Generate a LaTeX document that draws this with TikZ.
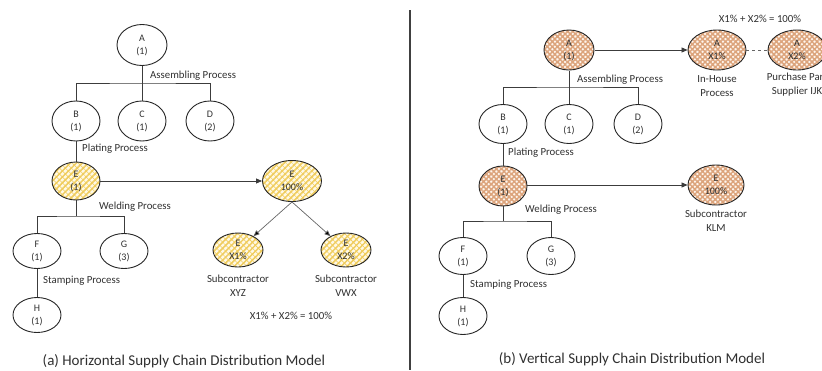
\documentclass[tikz,border=0pt]{standalone}
\usepackage{fontspec}
\setmainfont{Carlito}
\usetikzlibrary{patterns.meta,arrows.meta,shapes.geometric}
\definecolor{ln}{HTML}{3C3C3C}
\definecolor{txt}{HTML}{303030}
\definecolor{yelln}{HTML}{F0CC5C}
\definecolor{yelbg}{HTML}{FFF9E6}
\definecolor{brnln}{HTML}{DCA47C}
\definecolor{brnbg}{HTML}{FFF6EE}
\tikzset{
  ell/.style={ellipse, draw=black!85, line width=0.9pt, minimum width=48pt,
    minimum height=38pt, inner sep=0pt, align=center,
    font=\fontsize{10}{13}\selectfont, text=txt},
  yel/.style={preaction={fill=yelbg},
    preaction={pattern={Lines[angle=45,distance=4.2pt,line width=1.5pt]}, pattern color=yelln},
    pattern={Lines[angle=-45,distance=4.2pt,line width=0.6pt]}, pattern color=yelln},
  brn/.style={preaction={fill=brnbg},
    pattern={Hatch[angle=45,distance=3.6pt,line width=1.5pt]}, pattern color=brnln},
  conn/.style={draw=ln, line width=0.8pt},
  arr/.style={draw=ln, line width=0.8pt, -{Triangle[length=6pt,width=5pt]}},
  arr2/.style={draw=black!60, line width=0.7pt, -{Triangle[length=6pt,width=5pt,fill=black]}},
  dsh/.style={draw=black!60, line width=0.8pt, dashed},
  lbl/.style={inner sep=0pt, align=center, font=\fontsize{10.8}{14}\selectfont, text=txt},
  captxt/.style={inner sep=0pt, font=\fontsize{15}{18}\selectfont, text=txt},
  divider/.style={draw=black!75, line width=1.1pt}
}
\begin{document}
\begin{tikzpicture}[x=1pt,y=-1pt]
\useasboundingbox (0,0) rectangle (822,370);
\clip (0,0) rectangle (822,370);
% ---------- left panel ----------
\node[ell,minimum width=50pt,minimum height=41pt] (A) at (142,45) {A\\(1)};
\node[ell,minimum height=40pt] (B) at (76,121) {B\\(1)};
\node[ell,minimum height=40pt] (C) at (142,121) {C\\(1)};
\node[ell,minimum height=40pt] (D) at (210,121) {D\\(2)};
\node[ell,yel] (E) at (76,181) {E\\(1)};
\node[ell,yel,minimum width=59pt,minimum height=41pt] (E0) at (292,181) {E\\100\%};
\node[ell,yel,minimum width=50pt,minimum height=34pt] (X1) at (238,250) {E\\X1\%};
\node[ell,yel,minimum width=50pt,minimum height=34pt] (X2) at (346,250) {E\\X2\%};
\node[ell,minimum height=35pt] (F) at (37,251) {F\\(1)};
\node[ell,minimum height=35pt] (G) at (124,251) {G\\(3)};
\node[ell,minimum height=35pt] (H) at (37,315) {H\\(1)};
\coordinate (jA) at (142,83);
\coordinate (jE) at (76,216);
\draw[conn] (A.south) -- (jA);
\draw[conn] (B.north) |- (jA) -| (D.north);
\draw[conn] (C.north) -- (jA);
\draw[conn] (B.south) -- (E.north);
\draw[conn] (E.south) -- (jE);
\draw[conn] (F.north) |- (jE) -| (G.north);
\draw[conn] (F.south) -- (H.north);
\draw[arr] (E.east) -- (E0.west);
\draw[arr2] (E0.south) -- (X1);
\draw[arr2] (E0.south) -- (X2);
\node[lbl,anchor=west] (tAss) at (150,76) {Assembling Process};
\node[lbl,anchor=west] (tPl) at (82,149) {Plating Process};
\node[lbl,anchor=west] (tWe) at (99,207) {Welding Process};
\node[lbl,anchor=west] (tSt) at (43,281) {Stamping Process};
\node[lbl] (tX1) at (238,286) {Subcontractor\\XYZ};
\node[lbl] (tX2) at (346,286) {Subcontractor\\VWX};
\node[lbl] (tEq) at (291,316) {X1\% + X2\% = 100\%};
\node[captxt] (capA) at (184,361) {(a) Horizontal Supply Chain Distribution Model};
% ---------- divider ----------
\coordinate (d1) at (410,10);
\coordinate (d2) at (410,370);
\draw[divider] (d1) -- (d2);
% ---------- right panel ----------
\node[ell,brn,minimum width=50pt,minimum height=40pt] (RA) at (569,50) {A\\(1)};
\node[ell,brn,minimum width=58pt,minimum height=40pt] (RA1) at (717,50) {A\\X1\%};
\node[ell,brn,minimum width=58pt,minimum height=40pt] (RA2) at (797,50) {A\\X2\%};
\node[ell,minimum height=39pt] (RB) at (503,124) {B\\(1)};
\node[ell,minimum height=39pt] (RC) at (569,124) {C\\(1)};
\node[ell,minimum height=39pt] (RD) at (638,124) {D\\(2)};
\node[ell,brn,minimum height=40pt] (RE) at (503,186) {E\\(1)};
\node[ell,brn,minimum width=56pt,minimum height=40pt] (RE0) at (716,185) {E\\100\%};
\node[ell,minimum height=37pt] (RF) at (463,256) {F\\(1)};
\node[ell,minimum height=37pt] (RG) at (551,256) {G\\(3)};
\node[ell,minimum height=37pt] (RH) at (463,316) {H\\(1)};
\coordinate (jRA) at (569,87);
\coordinate (jRE) at (503,221);
\draw[conn] (RA.south) -- (jRA);
\draw[conn] (RB.north) |- (jRA) -| (RD.north);
\draw[conn] (RC.north) -- (jRA);
\draw[conn] (RB.south) -- (RE.north);
\draw[conn] (RE.south) -- (jRE);
\draw[conn] (RF.north) |- (jRE) -| (RG.north);
\draw[conn] (RF.south) -- (RH.north);
\draw[arr] (RA.east) -- (RA1.west);
\draw[dsh] (RA1.east) -- (RA2.west);
\draw[arr] (RE.east |- RE0.west) -- (RE0.west);
\node[lbl,anchor=west] (rtAss) at (577,80) {Assembling Process};
\node[lbl,anchor=west] (rtPl) at (508,153) {Plating Process};
\node[lbl,anchor=west] (rtWe) at (525,210) {Welding Process};
\node[lbl,anchor=west] (rtSt) at (470,285) {Stamping Process};
\node[lbl] (rtIn) at (717,86.5) {In-House\\Process};
\node[lbl] (rtPu) at (797,85) {Purchase Part\\Supplier IJK};
\node[lbl] (rtKLM) at (716,221) {Subcontractor\\KLM};
\node[lbl] (rtEq) at (760,19) {X1\% + X2\% = 100\%};
\node[captxt] (capB) at (632,359) {(b) Vertical Supply Chain Distribution Model};
\end{tikzpicture}
\end{document}
